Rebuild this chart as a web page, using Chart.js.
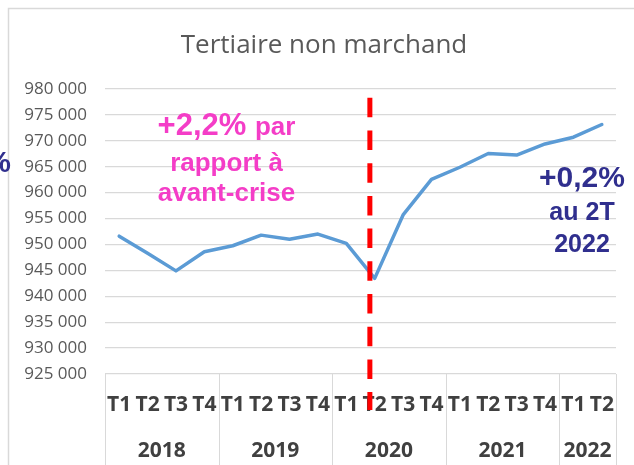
<!DOCTYPE html>
<html>
<head>
<meta charset="utf-8">
<script src="https://cdn.jsdelivr.net/npm/chart.js@4/dist/chart.umd.min.js"></script>
<style>
  html, body { margin: 0; padding: 0; background: #ffffff; }
  #wrap { width: 634px; height: 465px; position: relative; overflow: hidden; }
</style>
</head>
<body>
<div id="wrap"><canvas id="c"></canvas></div>
<script>
// ---- data ----
const quarterLabels = ['T1','T2','T3','T4','T1','T2','T3','T4','T1','T2','T3','T4','T1','T2','T3','T4','T1','T2'];
const yearLabels = ['2018','2019','2020','2021','2022'];
const quartersPerYear = [4, 4, 4, 4, 2];
const emploi = [951600, 948300, 944900, 948600, 949750, 951800, 951000, 952000, 950200, 943450,
                955700, 962550, 964900, 967550, 967250, 969400, 970700, 973150];
const yTickMin = 925000;
const yTickMax = 980000;
const yTickStep = 5000;
const chartTitle = 'Tertiaire non marchand';
const pinkNote = ['+2,2%', 'par', 'rapport à', 'avant-crise'];
const navyNote = ['+0,2%', 'au 2T', '2022'];
const crisisIndex = 8.83;      // position of the dashed line on the category axis
const crisisTopValue = 978300; // top of the dashed line on the value axis

function fmt(v) {
  return String(v).replace(/\B(?=(\d{3})+(?!\d))/g, ' ');
}

const decor = {
  id: 'decor',
  beforeDraw(chart) {
    const ctx = chart.ctx;
    ctx.save();
    ctx.fillStyle = '#ffffff';
    ctx.fillRect(0, 0, chart.width, chart.height);
    // outer frame of the chart
    ctx.strokeStyle = '#d9d9d9';
    ctx.lineWidth = 1.5;
    ctx.beginPath();
    ctx.moveTo(8.5, chart.height + 5);
    ctx.lineTo(8.5, 8.5);
    ctx.lineTo(chart.width + 5, 8.5);
    ctx.stroke();
    ctx.restore();
  },
  afterDraw(chart) {
    const ctx = chart.ctx;
    const x = chart.scales.x, y = chart.scales.y;
    ctx.save();
    // title
    ctx.fillStyle = '#595959';
    ctx.font = '26px "Open Sans"';
    ctx.textAlign = 'center';
    ctx.textBaseline = 'alphabetic';
    ctx.fillText(chartTitle, 324, 53);

    // category table: dividers + year labels
    const half = (x.getPixelForValue(1) - x.getPixelForValue(0)) / 2;
    ctx.strokeStyle = '#d9d9d9';
    ctx.lineWidth = 1;
    let idx = 0;
    ctx.fillStyle = '#404040';
    ctx.font = 'bold 21px "Open Sans"';
    ctx.textBaseline = 'middle';
    for (let g = 0; g < yearLabels.length; g++) {
      const first = idx, last = idx + quartersPerYear[g] - 1;
      const left = Math.round(x.getPixelForValue(first) - half) + 0.5;
      ctx.beginPath();
      ctx.moveTo(left, y.bottom);
      ctx.lineTo(left, chart.height);
      ctx.stroke();
      const cx = (x.getPixelForValue(first) + x.getPixelForValue(last)) / 2;
      ctx.fillText(yearLabels[g], cx, 451);
      idx = last + 1;
    }
    const right = Math.round(x.getPixelForValue(idx - 1) + half) + 0.5;
    ctx.beginPath();
    ctx.moveTo(right, y.bottom);
    ctx.lineTo(right, chart.height);
    ctx.stroke();

    // dashed red crisis line
    const cxp = x.getPixelForValue(crisisIndex);
    ctx.strokeStyle = '#ff0000';
    ctx.lineWidth = 5;
    ctx.setLineDash([19.5, 13.2]);
    ctx.beginPath();
    ctx.moveTo(cxp, y.getPixelForValue(crisisTopValue));
    ctx.lineTo(cxp, y.bottom + 36);
    ctx.stroke();
    ctx.setLineDash([]);

    // pink note
    ctx.fillStyle = '#f43dc7';
    ctx.textBaseline = 'alphabetic';
    ctx.font = 'bold 31px "Liberation Sans"';
    const w1 = ctx.measureText(pinkNote[0] + ' ').width;
    ctx.font = 'bold 26px "Liberation Sans"';
    const w2 = ctx.measureText(pinkNote[1]).width;
    const startX = 226.5 - (w1 + w2) / 2;
    ctx.textAlign = 'left';
    ctx.font = 'bold 31px "Liberation Sans"';
    ctx.fillText(pinkNote[0], startX, 135);
    ctx.font = 'bold 26px "Liberation Sans"';
    ctx.fillText(pinkNote[1], startX + w1, 135);
    ctx.textAlign = 'center';
    ctx.fillText(pinkNote[2], 226.5, 170.5);
    ctx.fillText(pinkNote[3], 226.5, 200.5);

    // navy note
    ctx.fillStyle = '#302f8e';
    ctx.font = 'bold 30px "Liberation Sans"';
    ctx.fillText(navyNote[0], 582, 186.5);
    ctx.font = 'bold 25px "Liberation Sans"';
    ctx.fillText(navyNote[1], 582, 220);
    ctx.fillText(navyNote[2], 582, 251.5);

    // clipped neighbouring annotation at the left edge
    ctx.font = 'bold 30px "Liberation Sans"';
    ctx.textAlign = 'right';
    ctx.fillText('%', 11, 172);
    ctx.restore();
  }
};

new Chart(document.getElementById('c'), {
  type: 'line',
  data: {
    labels: quarterLabels,
    datasets: [{
      data: emploi,
      borderColor: '#5b9bd5',
      borderWidth: 3.5,
      pointRadius: 0,
      tension: 0,
      fill: false,
      borderCapStyle: 'round',
      borderJoinStyle: 'round'
    }]
  },
  options: {
    responsive: true,
    maintainAspectRatio: false,
    animation: false,
    events: [],
    layout: { padding: { left: 0, right: 18, top: 89, bottom: 0 } },
    plugins: { legend: { display: false }, title: { display: false }, tooltip: { enabled: false } },
    scales: {
      x: {
        offset: true,
        grid: { display: false, drawTicks: false, offset: true },
        border: { display: false },
        ticks: {
          autoSkip: false, maxRotation: 0, minRotation: 0,
          color: '#404040',
          font: { family: 'Open Sans', size: 21, weight: 'bold' },
          padding: 18
        },
        afterFit(s) { s.height = 91; }
      },
      y: {
        min: yTickMin, max: yTickMax,
        grid: { color: '#d9d9d9', lineWidth: 1.2, drawTicks: false },
        border: { display: false },
        ticks: {
          stepSize: yTickStep,
          color: '#595959',
          font: { family: 'Open Sans', size: 17 },
          padding: 18,
          callback: v => fmt(v)
        },
        afterFit(s) { s.width = 105; }
      }
    }
  },
  plugins: [decor]
});
</script>
</body>
</html>
